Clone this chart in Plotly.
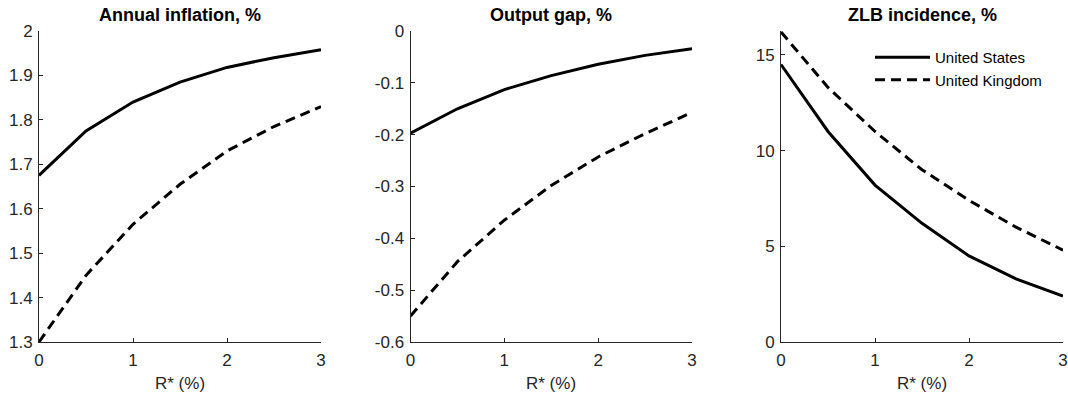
import plotly.graph_objects as go

rstar = [0, 0.5, 1, 1.5, 2, 2.5, 3]
infl_us = [1.675, 1.775, 1.84, 1.885, 1.918, 1.94, 1.958]
infl_uk = [1.30, 1.45, 1.565, 1.655, 1.73, 1.785, 1.83]
gap_us = [-0.197, -0.15, -0.113, -0.086, -0.064, -0.047, -0.034]
gap_uk = [-0.55, -0.445, -0.365, -0.298, -0.243, -0.198, -0.157]
zlb_us = [14.5, 11.0, 8.2, 6.2, 4.5, 3.3, 2.4]
zlb_uk = [16.2, 13.3, 11.0, 9.0, 7.4, 6.0, 4.8]

titles = ["Annual inflation, %", "Output gap, %", "ZLB incidence, %"]
names = ["United States", "United Kingdom"]
xlabel = "R* (%)"
xticks = [0, 1, 2, 3]
yticks = [
    [1.3, 1.4, 1.5, 1.6, 1.7, 1.8, 1.9, 2],
    [-0.6, -0.5, -0.4, -0.3, -0.2, -0.1, 0],
    [0, 5, 10, 15],
]
ytext = [
    ["1.3", "1.4", "1.5", "1.6", "1.7", "1.8", "1.9", "2"],
    ["-0.6", "-0.5", "-0.4", "-0.3", "-0.2", "-0.1", "0"],
    ["0", "5", "10", "15"],
]
yranges = [[1.3, 2.0], [-0.6, 0.0], [0, 16.25]]

W, H = 1068, 393
def px(x):
    return x / W
def py(y):
    return (H - y) / H

xd = [(px(39), px(321)), (px(410.5), px(692)), (px(781), px(1063))]
yd = (py(342), py(31))

FONT = "Liberation Sans, Arial, sans-serif"
AX = "#262626"

fig = go.Figure()
series = [(infl_us, infl_uk), (gap_us, gap_uk), (zlb_us, zlb_uk)]
for i, (us, uk) in enumerate(series):
    xa = "x" if i == 0 else f"x{i+1}"
    ya = "y" if i == 0 else f"y{i+1}"
    fig.add_trace(go.Scatter(x=rstar, y=us, mode="lines", name=names[0],
                             line=dict(color="black", width=3),
                             xaxis=xa, yaxis=ya, showlegend=(i == 2)))
    fig.add_trace(go.Scatter(x=rstar, y=uk, mode="lines", name=names[1],
                             line=dict(color="black", width=3, dash="10px,6px"),
                             xaxis=xa, yaxis=ya, showlegend=(i == 2)))

layout = dict(
    width=W, height=H,
    margin=dict(l=0, r=0, t=0, b=0),
    paper_bgcolor="white", plot_bgcolor="white",
    font=dict(family=FONT, size=17, color=AX),
    legend=dict(x=px(870), y=py(41), xanchor="left", yanchor="top",
                bgcolor="rgba(0,0,0,0)", font=dict(size=15, color="black"),
                itemwidth=55),
)
for i in range(3):
    sfx = "" if i == 0 else str(i + 1)
    layout[f"xaxis{sfx}"] = dict(
        domain=xd[i], range=[0, 3], tickvals=xticks, ticktext=[str(t) for t in xticks],
        ticks="inside", ticklen=4, tickcolor=AX, showline=True, linecolor=AX,
        linewidth=1, showgrid=False, zeroline=False, anchor=f"y{sfx}",
        tickfont=dict(size=17), automargin=False, ticklabelstandoff=3,
    )
    layout[f"yaxis{sfx}"] = dict(
        domain=yd, range=yranges[i], tickvals=yticks[i], ticktext=ytext[i],
        ticks="inside", ticklen=4, tickcolor=AX, showline=True, linecolor=AX,
        linewidth=1, showgrid=False, zeroline=False, anchor=f"x{sfx}",
        tickfont=dict(size=17), automargin=False, ticklabelstandoff=2,
    )
fig.update_layout(**layout)

for i in range(3):
    cx = (xd[i][0] + xd[i][1]) / 2
    fig.add_annotation(text=f"<b>{titles[i]}</b>", xref="paper", yref="paper",
                       x=cx, y=py(15), xanchor="center", yanchor="middle",
                       showarrow=False,
                       font=dict(size=18, color="black", family=FONT))
    fig.add_annotation(text=xlabel, xref="paper", yref="paper",
                       x=cx, y=py(383), xanchor="center", yanchor="middle",
                       showarrow=False,
                       font=dict(size=17, color=AX, family=FONT))

fig.write_html("out.html", config={"displayModeBar": False},
               post_script="document.body.style.margin='0px';")
